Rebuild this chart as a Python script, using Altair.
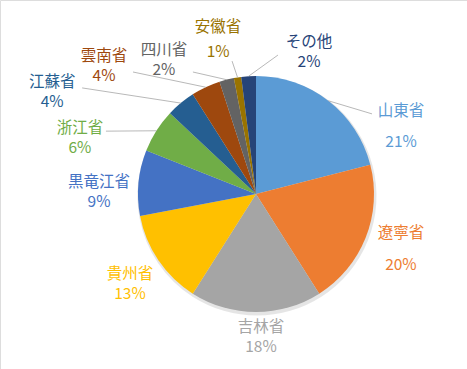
import math
import altair as alt
import pandas as pd

# ---- data ----
names = ["山東省", "遼寧省", "吉林省", "貴州省", "黒竜江省", "浙江省",
         "江蘇省", "雲南省", "四川省", "安徽省", "その他"]
values = [21, 20, 18, 13, 9, 6, 4, 4, 2, 1, 2]
colors = ["#5B9BD5", "#ED7D31", "#A5A5A5", "#FFC000", "#4472C4", "#70AD47",
          "#255E91", "#9E480E", "#636363", "#997300", "#264478"]

# ---- layout (label placement, Excel "best fit") ----
W, H = 467, 369
CX, CY, R = 256, 194, 118
label_shift = [27.2, -0.8, -2.0, -1.2, -4.5, -14.8, -23.8, -24.7, -20.0, -4.8, 24.0]
label_radius = [160, 155, 142.6, 154.6, 157, 184.7, 228, 198.7, 163, 159, 152]
line_gap = [31, 32, 20, 20, 20, 20.5, 20.5, 20.5, 20, 25, 20]
leader_dx = [-29, None, None, None, None, 26, 30, 29, 29, 14, -31]
leader_dy = [-12.5, None, None, None, None, -7, -4, 6, 12.5, 21.5, 3.5]

total = sum(values)
pie_df = pd.DataFrame({"name": names, "value": values, "idx": list(range(len(names)))})

label_rows, leader_rows = [], []
cum = 0
for i, (n, v) in enumerate(zip(names, values)):
    mid = (cum + v / 2) / total * 360
    cum += v
    a = math.radians(mid + label_shift[i])
    lx = CX + label_radius[i] * math.sin(a)
    ly = CY - label_radius[i] * math.cos(a)
    label_rows.append({"name": n, "text": n, "x": lx, "y": ly - line_gap[i] / 2})
    label_rows.append({"name": n, "text": f"{v}%", "x": lx, "y": ly + line_gap[i] / 2})
    if leader_dx[i] is not None:
        m = math.radians(mid)
        leader_rows.append({
            "name": n,
            "x": CX + R * math.sin(m), "y": CY - R * math.cos(m),
            "x2": lx + leader_dx[i], "y2": ly + leader_dy[i],
        })

label_df = pd.DataFrame(label_rows)
leader_df = pd.DataFrame(leader_rows)

xs = alt.Scale(domain=[0, W], nice=False, zero=False)
ys = alt.Scale(domain=[0, H], nice=False, zero=False, reverse=True)
color_scale = alt.Scale(domain=names, range=colors)

shadow = alt.Chart(pie_df).mark_arc(radius=R + 1.5, color="#000000", opacity=0.10).encode(
    theta=alt.Theta("value:Q", stack=True),
    order=alt.Order("idx:Q"),
    x=alt.value(CX + 1), y=alt.value(CY + 2),
)

pie = alt.Chart(pie_df).mark_arc(radius=R).encode(
    theta=alt.Theta("value:Q", stack=True),
    color=alt.Color("name:N", scale=color_scale, legend=None),
    order=alt.Order("idx:Q"),
    x=alt.value(CX), y=alt.value(CY),
)

leaders = alt.Chart(leader_df).mark_rule(color="#A6A6A6", strokeWidth=0.8).encode(
    x=alt.X("x:Q", scale=xs, axis=None),
    y=alt.Y("y:Q", scale=ys, axis=None),
    x2="x2:Q", y2="y2:Q",
)

labels = alt.Chart(label_df).mark_text(
    font="Noto Sans CJK JP", fontSize=15.5, align="center", baseline="middle"
).encode(
    x=alt.X("x:Q", scale=xs, axis=None),
    y=alt.Y("y:Q", scale=ys, axis=None),
    text="text:N",
    color=alt.Color("name:N", scale=color_scale, legend=None),
)

chart = alt.layer(shadow, pie, leaders, labels).properties(
    width=W, height=H,
    autosize=alt.AutoSizeParams(type="none"),
    padding=0,
).configure_view(stroke=None).configure(background="white")

chart.save("out.html", embed_options={"renderer": "svg", "actions": False})
